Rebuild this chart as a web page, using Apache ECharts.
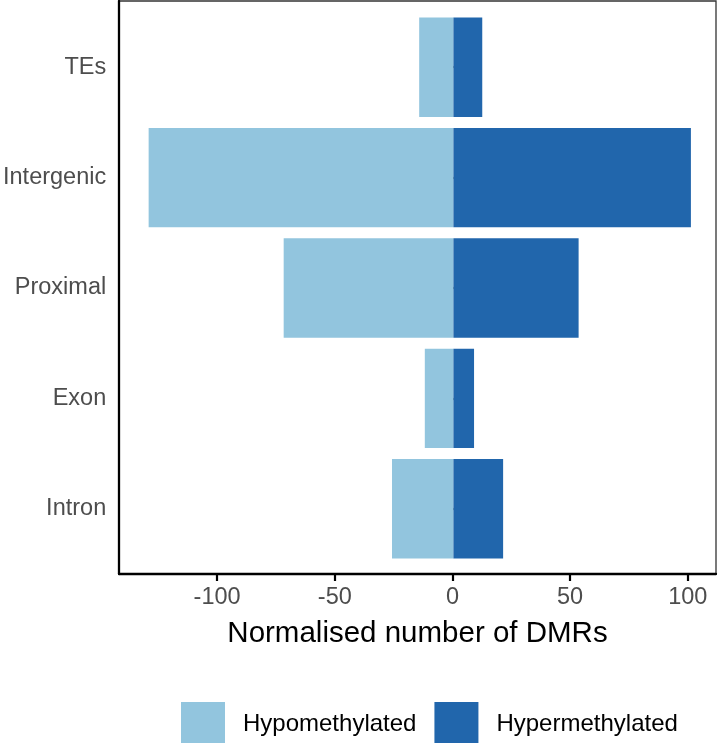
<!DOCTYPE html>
<html>
<head>
<meta charset="utf-8">
<script src="https://cdn.jsdelivr.net/npm/echarts@6/dist/echarts.min.js"></script>
<style>
html,body{margin:0;padding:0;background:#fff;}
#chart{width:719px;height:743px;}
</style>
</head>
<body>
<div id="chart"></div>
<script>
const categories = ['TEs', 'Intergenic', 'Proximal', 'Exon', 'Intron'];
const hypomethylated = [-14.6, -130.0, -72.4, -12.2, -26.2];
const hypermethylated = [12.3, 101.3, 53.4, 8.8, 21.2];
const xTicks = [-100, -50, 0, 50, 100];
const seriesNames = ['Hypomethylated', 'Hypermethylated'];

const FONT = 'Liberation Sans, Arial, Helvetica, sans-serif';
const xMin = -141.7, xMax = 112;
const chart = echarts.init(document.getElementById('chart'), null, {renderer: 'canvas'});
chart.setOption({
  animation: false,
  backgroundColor: '#ffffff',
  grid: [
    {left: 119, top: 12, width: 597, height: 552, containLabel: false},
    {left: 119, top: 1, width: 597, height: 573, containLabel: false,
     show: true, borderColor: '#333333', borderWidth: 1.3, backgroundColor: 'transparent'}
  ],
  xAxis: [
    {type: 'value', gridIndex: 0, min: xMin, max: xMax, show: false},
    {type: 'value', gridIndex: 1, min: xMin, max: xMax,
     axisLine: {show: true, onZero: false, lineStyle: {color: '#000', width: 2.3}},
     axisTick: {show: true, length: 7, lineStyle: {color: '#000', width: 2.2}, customValues: xTicks},
     axisLabel: {show: true, color: '#4d4d4d', fontSize: 23.5, fontFamily: FONT, margin: 12,
                 customValues: xTicks},
     splitLine: {show: false},
     name: 'Normalised number of DMRs', nameLocation: 'middle', nameGap: 45,
     nameTextStyle: {color: '#000', fontSize: 29.5, fontFamily: FONT}}
  ],
  yAxis: [
    {type: 'category', gridIndex: 0, data: categories, inverse: true,
     axisLine: {show: false},
     axisTick: {show: true, alignWithLabel: true, length: 7, lineStyle: {color: '#000', width: 2.2}},
     axisLabel: {color: '#4d4d4d', fontSize: 23.5, fontFamily: FONT, margin: 15},
     splitLine: {show: false}},
    {type: 'value', gridIndex: 1, min: 0, max: 1,
     axisLine: {show: true, onZero: false, lineStyle: {color: '#000', width: 2.3}},
     axisTick: {show: false}, axisLabel: {show: false}, splitLine: {show: false}}
  ],
  legend: {
    data: seriesNames,
    left: 176, top: 697,
    itemWidth: 44, itemHeight: 44, itemGap: 18,
    icon: 'rect',
    textStyle: {color: '#000', fontSize: 24, fontFamily: FONT, padding: [0, 0, 0, 13]}
  },
  series: [
    {name: seriesNames[0], type: 'bar', xAxisIndex: 0, yAxisIndex: 0, data: hypomethylated,
     barCategoryGap: '10%', barGap: '-100%', itemStyle: {color: '#92C5DE'}},
    {name: seriesNames[1], type: 'bar', xAxisIndex: 0, yAxisIndex: 0, data: hypermethylated,
     barCategoryGap: '10%', barGap: '-100%', itemStyle: {color: '#2166AC'}}
  ]
});
</script>
</body>
</html>
